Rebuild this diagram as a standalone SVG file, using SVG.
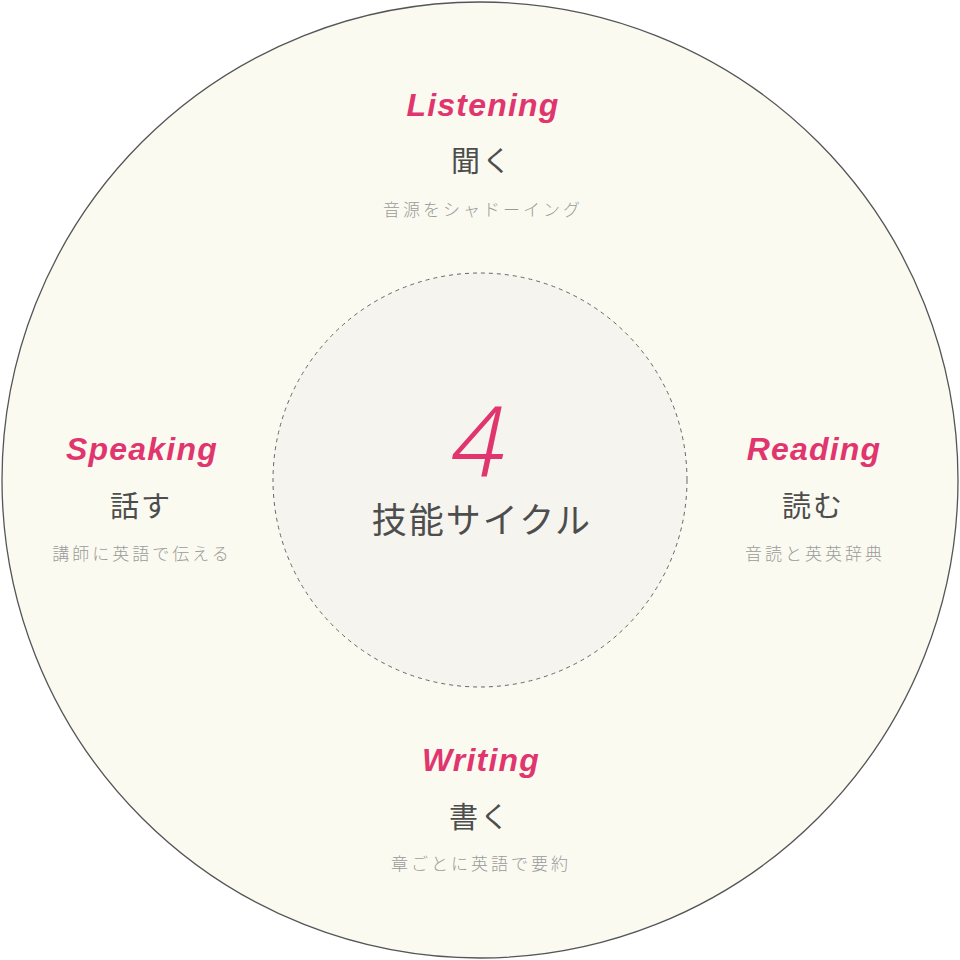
<svg xmlns="http://www.w3.org/2000/svg" width="960" height="960" viewBox="0 0 960 960">
<style>
.en{font-family:"Liberation Sans",Arial,sans-serif;font-weight:bold;font-style:italic;font-size:32px;fill:#e0356f;text-anchor:middle;letter-spacing:1.2px}
.jp{font-family:"Noto Sans CJK JP","Noto Sans",sans-serif;font-size:29px;fill:#4d4d4d;text-anchor:middle;letter-spacing:2px}
.sub{font-family:"Noto Sans CJK JP","Noto Sans",sans-serif;font-weight:300;font-size:17px;fill:#9a9a9a;text-anchor:middle;letter-spacing:3px}
</style>
<rect width="960" height="960" fill="#ffffff"/>
<g id="outer"><circle cx="480" cy="480" r="478" fill="#fafaf0" stroke="#555555" stroke-width="1.3"/></g>
<g id="center">
<circle cx="480" cy="480" r="207" fill="#f5f4ee" stroke="#666666" stroke-width="1" stroke-dasharray="4 4"/>
<text x="478" y="476" font-family="'Noto Sans',sans-serif" font-weight="300" font-style="italic" font-size="98" fill="#e0356f" text-anchor="middle">4</text>
<text x="482" y="533" font-family="'Noto Sans CJK JP',sans-serif" font-size="35" fill="#4d4d4d" text-anchor="middle" letter-spacing="2">技能サイクル</text>
</g>
<g id="listening">
<text class="en" x="483" y="116">Listening</text>
<text class="jp" x="482" y="172">聞く</text>
<text class="sub" x="483" y="216">音源をシャドーイング</text>
</g>
<g id="reading">
<text class="en" x="814" y="460">Reading</text>
<text class="jp" x="813" y="517">読む</text>
<text class="sub" x="815" y="560">音読と英英辞典</text>
</g>
<g id="speaking">
<text class="en" x="142" y="460">Speaking</text>
<text class="jp" x="141" y="517">話す</text>
<text class="sub" x="142" y="560">講師に英語で伝える</text>
</g>
<g id="writing">
<text class="en" x="481" y="771">Writing</text>
<text class="jp" x="480" y="828">書く</text>
<text class="sub" x="481" y="870">章ごとに英語で要約</text>
</g>
<g id="connectors"></g>
</svg>
